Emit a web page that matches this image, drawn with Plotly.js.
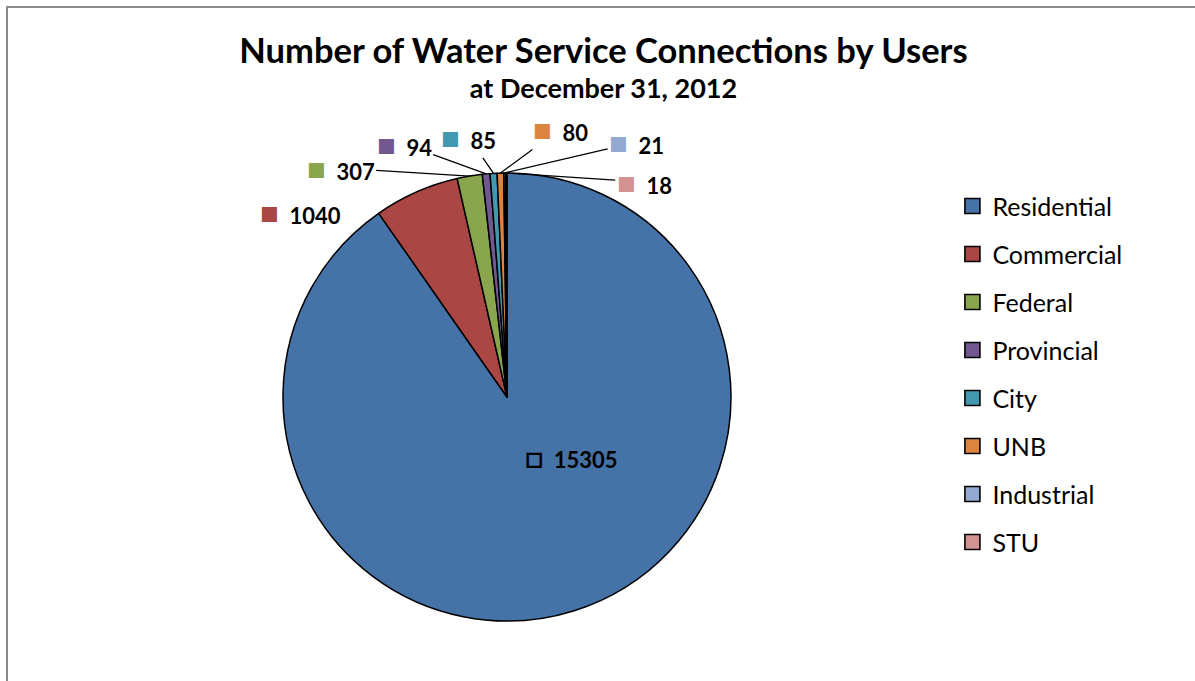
<!DOCTYPE html>
<html>
<head>
<meta charset="utf-8">
<script src="https://cdn.plot.ly/plotly-3.0.1.min.js"></script>
<style>
  html, body { margin: 0; padding: 0; background: #fff; overflow: hidden; }
  #chart { position: absolute; left: 0; top: 0; width: 1195px; height: 681px; }
  #frame { position: absolute; left: 6px; top: 6px; width: 1300px; height: 800px;
           border: 2px solid #8c8c8c; pointer-events: none; box-sizing: border-box; }
</style>
</head>
<body>
<div id="chart"></div>
<div id="frame"></div>
<script>
const categories = ["Residential", "Commercial", "Federal", "Provincial", "City", "UNB", "Industrial", "STU"];
const connections = [15305, 1040, 307, 94, 85, 80, 21, 18];
const colors = ["#4572A7", "#AA4643", "#89A54E", "#71588F", "#4198AF", "#DB843D", "#93A9CF", "#D19392"];

// label placement (layout only): offset of each data label from its anchor on the slice, in px
const labelDX = [31, -116, -129, -82, -25, 60, 132, 138];
const labelDY = [-48, 20, -8, -30, -36, -44, -31, 9];

const FONT = "Lato, 'Liberation Sans', sans-serif";
const W = 1195, H = 681;
const dom = { x: [0.2368, 0.6117], y: [0.0881, 0.7460] };

const pie = {
  type: 'pie',
  labels: categories,
  values: connections,
  textinfo: 'none',
  sort: false,
  direction: 'clockwise',
  rotation: 0,
  showlegend: false,
  marker: { colors: colors, line: { color: '#000', width: 1.5 } },
  domain: dom,
  hoverinfo: 'label+value'
};

const legendTraces = categories.map((c, i) => ({
  type: 'scatter',
  x: [null], y: [null],
  mode: 'markers',
  name: c,
  legendgroup: 'g' + i,
  marker: { symbol: 'square', size: 15, color: colors[i], line: { color: '#000', width: 1.6 } },
  hoverinfo: 'skip'
}));

// data labels anchored on the slices, positions derived from the values
const total = connections.reduce((a, b) => a + b, 0);
const cx = (dom.x[0] + dom.x[1]) / 2, cy = (dom.y[0] + dom.y[1]) / 2;
const rPx = Math.min((dom.x[1] - dom.x[0]) * W, (dom.y[1] - dom.y[0]) * H) / 2;
let cum = 0;
const annotations = connections.map((v, i) => {
  const mid = (cum + v / 2) / total;
  cum += v;
  const th = mid * 2 * Math.PI;
  const f = i === 0 ? 0.5 : 1.0;
  const sq = i === 0 ? '<span style="font-size:30px">□</span>'
                     : '<span style="color:' + colors[i] + ';font-size:31px">■</span>';
  return {
    xref: 'paper', yref: 'paper',
    x: cx + rPx * f * Math.sin(th) / W,
    y: cy + rPx * f * Math.cos(th) / H,
    ax: labelDX[i], ay: labelDY[i],
    xanchor: 'center', yanchor: 'middle',
    text: sq + '\u00A0\u00A0' + v,
    font: { family: FONT, size: 22, color: '#000', weight: 'bold' },
    showarrow: true, arrowhead: 0, standoff: 0, arrowwidth: 1.3,
    arrowcolor: (i <= 1) ? 'rgba(0,0,0,0)' : '#000'
  };
});

const layout = {
  width: W, height: H,
  margin: { l: 0, r: 0, t: 0, b: 0 },
  paper_bgcolor: '#fff', plot_bgcolor: '#fff',
  title: {
    text: '<b><span style="font-size:34.5px">Number of Water Service Connections by Users</span><br>at December 31, 2012</b>',
    font: { family: FONT, size: 27, color: '#000' },
    x: 0.505, xanchor: 'center',
    yref: 'container', y: 0.9075, yanchor: 'top'
  },
  xaxis: { visible: false },
  yaxis: { visible: false },
  showlegend: true,
  legend: {
    x: 0.797, xanchor: 'left', y: 0.731, yanchor: 'top',
    font: { family: FONT, size: 25, color: '#000' },
    tracegroupgap: 12.5,
    bgcolor: 'rgba(0,0,0,0)'
  },
  annotations: annotations
};

Plotly.newPlot('chart', [pie].concat(legendTraces), layout, { displayModeBar: false, staticPlot: true });
</script>
</body>
</html>
